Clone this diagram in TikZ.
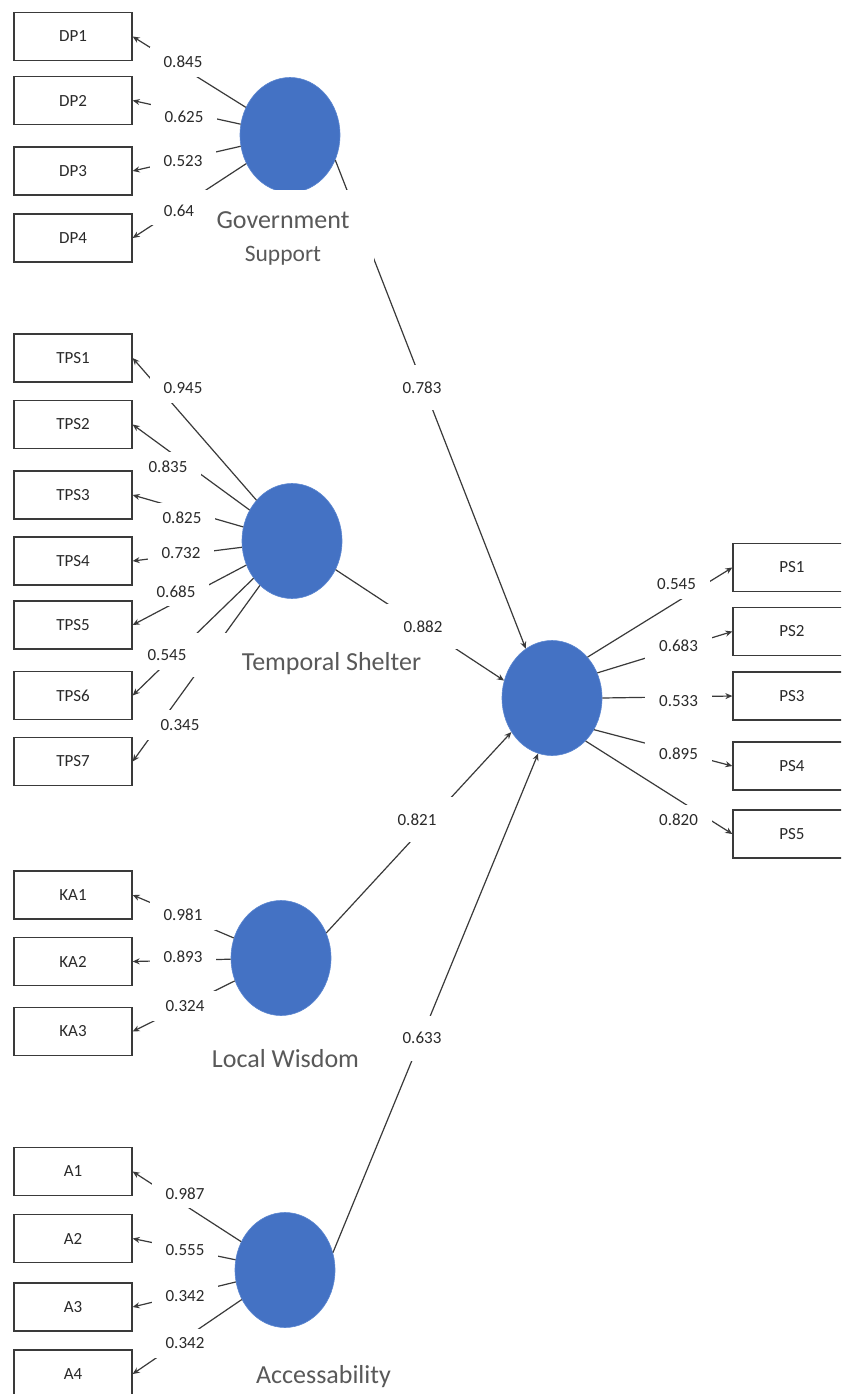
\documentclass[tikz,border=0pt]{standalone}
\usepackage{fontspec}
\setmainfont{Carlito}
\usetikzlibrary{shapes.geometric,arrows.meta}
\definecolor{lv}{HTML}{4472C4}
\definecolor{lvedge}{HTML}{5B86D0}
\definecolor{ln}{HTML}{3A3A3A}
\definecolor{lbl}{HTML}{595959}
\definecolor{txt}{HTML}{2A2A2A}
\tikzset{
  ind/.style={draw=ln, line width=1.3pt, minimum width=118pt, minimum height=48pt,
    inner sep=0pt, font=\fontsize{17}{20}\selectfont, text=txt},
  lat/.style={ellipse, fill=lv, draw=lvedge, line width=0.6pt, minimum width=100pt,
    minimum height=115pt, inner sep=0pt},
  load/.style={draw=ln, line width=1.2pt, -{Stealth[length=7pt,width=6pt]}},
  coef/.style={fill=white, inner xsep=14pt, inner ysep=9pt,
    font=\fontsize{17}{20}\selectfont, text=txt},
  pcoef/.style={fill=white, minimum width=72pt, minimum height=45pt, inner sep=0pt,
    font=\fontsize{17}{20}\selectfont, text=txt},
  conlabel/.style={text=lbl, font=\fontsize{26}{33}\selectfont, inner sep=0pt},
}
\begin{document}
\begin{tikzpicture}[x=1pt,y=-1pt]
\clip (0,0) rectangle (841,1394);
\fill[white] (0,0) rectangle (841,1394);

% indicator boxes (left)
\node[ind] (DP1) at (73,36.5) {DP1};
\node[ind] (DP2) at (73,100.5) {DP2};
\node[ind] (DP3) at (73,171) {DP3};
\node[ind] (DP4) at (73,238) {DP4};
\node[ind] (TPS1) at (73,358) {TPS1};
\node[ind] (TPS2) at (73,424.5) {TPS2};
\node[ind] (TPS3) at (73,495) {TPS3};
\node[ind] (TPS4) at (73,561) {TPS4};
\node[ind] (TPS5) at (73,625) {TPS5};
\node[ind] (TPS6) at (73,695.5) {TPS6};
\node[ind] (TPS7) at (73,761.5) {TPS7};
\node[ind] (KA1) at (73,895) {KA1};
\node[ind] (KA2) at (73,961.5) {KA2};
\node[ind] (KA3) at (73,1031.5) {KA3};
\node[ind] (A1) at (73,1171.5) {A1};
\node[ind] (A2) at (73,1238.5) {A2};
\node[ind] (A3) at (73,1307) {A3};
\node[ind] (A4) at (73,1374) {A4};
% indicator boxes (right)
\node[ind] (PS1) at (792,567.5) {PS1};
\node[ind] (PS2) at (792,631.5) {PS2};
\node[ind] (PS3) at (792,696) {PS3};
\node[ind] (PS4) at (792,766) {PS4};
\node[ind] (PS5) at (792,834) {PS5};

% latent variables
\node[lat] (GS) at (290,135) {};
\node[lat] (TS) at (292,541) {};
\node[lat] (PS) at (552,698) {};
\node[lat] (LW) at (281,958) {};
\node[lat] (AC) at (285,1270) {};

% loadings
\draw[load] (GS) -- (DP1.east);
\draw[load] (GS) -- (DP2.east);
\draw[load] (GS) -- (DP3.east);
\draw[load] (GS) -- (DP4.east);
\draw[load] (TS) -- (TPS1.east);
\draw[load] (TS) -- (TPS2.east);
\draw[load] (TS) -- (TPS3.east);
\draw[load] (TS) -- (TPS4.east);
\draw[load] (TS) -- (TPS5.east);
\draw[load] (TS) -- (TPS6.east);
\draw[load] (TS) -- (TPS7.east);
\draw[load] (LW) -- (KA1.east);
\draw[load] (LW) -- (KA2.east);
\draw[load] (LW) -- (KA3.east);
\draw[load] (AC) -- (A1.east);
\draw[load] (AC) -- (A2.east);
\draw[load] (AC) -- (A3.east);
\draw[load] (AC) -- (A4.east);
\draw[load] (PS.49) -- (PS1.west);
\draw[load] (PS.29) -- (PS2.west);
\draw[load] (PS.0) -- (PS3.west);
\draw[load] (PS.-37) -- (PS4.west);
\draw[load] (PS.-52) -- (PS5.west);

% structural paths
\draw[load] (GS.-29) -- (PS.118);
\draw[load] (TS) -- (PS.160);
\draw[load] (LW.29) -- (PS.220);
\draw[load] (AC.20) -- (PS.256);

% loading labels
\node[coef] (c1) at (183,62) {0.845};
\node[coef] (c2) at (184,116.5) {0.625};
\node[coef] (c3) at (183,161.5) {0.523};
\node[coef] (c4) at (179,210.5) {0.64};
\node[coef] (c5) at (183,388.5) {0.945};
\node[coef] (c6) at (168,466.5) {0.835};
\node[coef] (c7) at (182,517.5) {0.825};
\node[coef] (c8) at (181,553.5) {0.732};
\node[coef] (c9) at (176,591.5) {0.685};
\node[coef] (c10) at (167,655) {0.545};
\node[coef] (c11) at (180,725) {0.345};
\node[coef] (c12) at (183,915) {0.981};
\node[coef] (c13) at (183,956.5) {0.893};
\node[coef] (c14) at (185,1006) {0.324};
\node[coef] (c15) at (185,1193.5) {0.987};
\node[coef] (c16) at (185,1250) {0.555};
\node[coef] (c17) at (185,1296.5) {0.342};
\node[coef] (c18) at (185,1343.5) {0.342};
\node[coef] (c19) at (676.5,584.5) {0.545};
\node[coef] (c20) at (678.5,646) {0.683};
\node[coef] (c21) at (678.5,701.5) {0.533};
\node[coef] (c22) at (678.5,754) {0.895};
\node[coef] (c23) at (678.5,820) {0.820};
% path coefficients
\node[pcoef] (p1) at (422,387.5) {0.783};
\node[pcoef] (p2) at (423,626.5) {0.882};
\node[pcoef] (p3) at (417,819.5) {0.821};
\node[pcoef] (p4) at (422,1038) {0.633};

% label backgrounds
\fill[white] (194,190) rectangle (374,262);
\fill[white] (188,633) rectangle (432,677);

% construct names
\node[conlabel, align=center] (GSname) at (283,238)
  {Government\\{\fontsize{23.5}{33}\selectfont Support}};
\node[conlabel, anchor=base] (TSname) at (331.5,670) {Temporal Shelter};
\node[conlabel, anchor=base] (LWname) at (285.5,1067) {Local Wisdom};
\node[conlabel, anchor=base] (ACname) at (323.5,1383) {Accessability};
\end{tikzpicture}
\end{document}
